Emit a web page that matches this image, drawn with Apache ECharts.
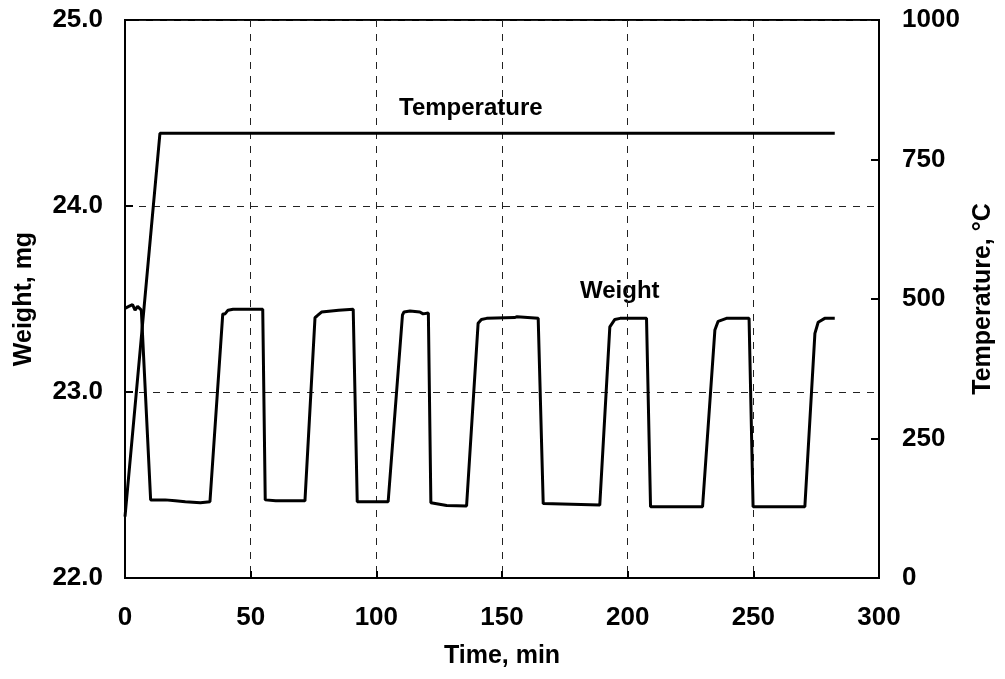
<!DOCTYPE html>
<html>
<head>
<meta charset="utf-8">
<script src="https://cdn.jsdelivr.net/npm/echarts@6/dist/echarts.min.js"></script>
<style>
  html, body { margin: 0; padding: 0; background: #fff; }
  #chart { width: 1005px; height: 679px; }
</style>
</head>
<body>
<div id="chart"></div>
<script>
// weight trace (min, mg)
const weightTime = [
  0, 1.5, 3, 4, 5, 6.5, 7.2, 10.2, 16, 20, 24, 30, 33.8,
  34.3, 38.9, 39.8, 41, 43, 54.8, 55.8, 60, 71.6,
  75.6, 76.5, 78.2, 85, 90.8, 92.4, 104.7,
  110.4, 111, 113.4, 117.3, 118.6, 120.7, 121.7, 128, 135.9,
  140.5, 141.8, 143.9, 155, 156, 164.4, 166.4, 188.9,
  192.9, 194.9, 197, 207.5, 209.1, 229.8,
  234.7, 236.0, 239.3, 248.3, 249.9, 270.5,
  274.5, 275.8, 278.4, 282.4,
];
const weightValue = [
  23.45, 23.46, 23.47, 23.44, 23.46, 23.44, 23.43, 22.42, 22.42, 22.415, 22.41, 22.405, 22.41,
  22.42, 23.42, 23.42, 23.44, 23.445, 23.445, 22.42, 22.415, 22.415,
  23.40, 23.41, 23.43, 23.44, 23.445, 22.41, 22.41,
  23.414, 23.43, 23.435, 23.43, 23.42, 23.425, 22.405, 22.39, 22.387,
  23.37, 23.39, 23.396, 23.40, 23.405, 23.396, 22.40, 22.392,
  23.35, 23.39, 23.396, 23.396, 22.383, 22.383,
  23.333, 23.38, 23.396, 23.396, 22.383, 22.383,
  23.315, 23.375, 23.396, 23.396,
];

// temperature trace (min, °C)
const tempTime = [0, 13.9, 282.4];
const tempValue = [110, 797, 797];

const timeTicks = { min: 0, max: 300, interval: 50 };
const weightTicks = { min: 22, max: 25, interval: 1 };
const tempTicks = { min: 0, max: 1000, interval: 250 };

const font = "'Liberation Sans', Arial, sans-serif";
const labelStyle = { color: "#000", fontFamily: font, fontWeight: "bold", fontSize: 26 };
const nameStyle = { color: "#000", fontFamily: font, fontWeight: "bold", fontSize: 25 };
const gridDash = { color: "#222", width: 1, type: [7, 7] };

const zip = (xs, ys) => xs.map((x, i) => [x, ys[i]]);

const chart = echarts.init(document.getElementById("chart"));
chart.setOption({
  animation: false,
  backgroundColor: "#fff",
  grid: { left: 125, right: 126, top: 20, bottom: 101, show: true, borderColor: "#000", borderWidth: 2 },
  xAxis: {
    type: "value",
    ...timeTicks,
    name: "Time, min",
    nameLocation: "middle",
    nameGap: 66,
    nameTextStyle: nameStyle,
    axisLine: { lineStyle: { color: "#000", width: 2 } },
    axisTick: { inside: true, length: 7, lineStyle: { color: "#000", width: 2 } },
    axisLabel: { ...labelStyle, margin: 27 },
    splitLine: { show: true, lineStyle: gridDash },
  },
  yAxis: [
    {
      type: "value",
      ...weightTicks,
      name: "Weight, mg",
      nameLocation: "middle",
      nameGap: 88,
      nameTextStyle: nameStyle,
      axisLine: { show: true, lineStyle: { color: "#000", width: 2 } },
      axisTick: { show: true, inside: true, length: 8, lineStyle: { color: "#000", width: 2 } },
      axisLabel: { ...labelStyle, margin: 22, formatter: (v) => v.toFixed(1) },
      splitLine: { show: true, lineStyle: gridDash },
    },
    {
      type: "value",
      ...tempTicks,
      position: "right",
      name: "Temperature, °C",
      nameLocation: "middle",
      nameGap: 92,
      nameRotate: 90,
      nameTextStyle: nameStyle,
      axisLine: { show: true, lineStyle: { color: "#000", width: 2 } },
      axisTick: { show: true, inside: true, length: 8, lineStyle: { color: "#000", width: 2 } },
      axisLabel: { ...labelStyle, margin: 23, formatter: (v) => String(v) },
      splitLine: { show: false },
    },
  ],
  graphic: [
    { type: "text", left: 399, top: 96, style: { text: "Temperature", fill: "#000", font: `bold 24px ${font}` } },
    { type: "text", left: 580, top: 279, style: { text: "Weight", fill: "#000", font: `bold 24px ${font}` } },
  ],
  series: [
    {
      name: "Weight",
      type: "line",
      yAxisIndex: 0,
      showSymbol: false,
      data: zip(weightTime, weightValue),
      lineStyle: { color: "#000", width: 3 },
    },
    {
      name: "Temperature",
      type: "line",
      yAxisIndex: 1,
      showSymbol: false,
      data: zip(tempTime, tempValue),
      lineStyle: { color: "#000", width: 3 },
    },
  ],
});
</script>
</body>
</html>
